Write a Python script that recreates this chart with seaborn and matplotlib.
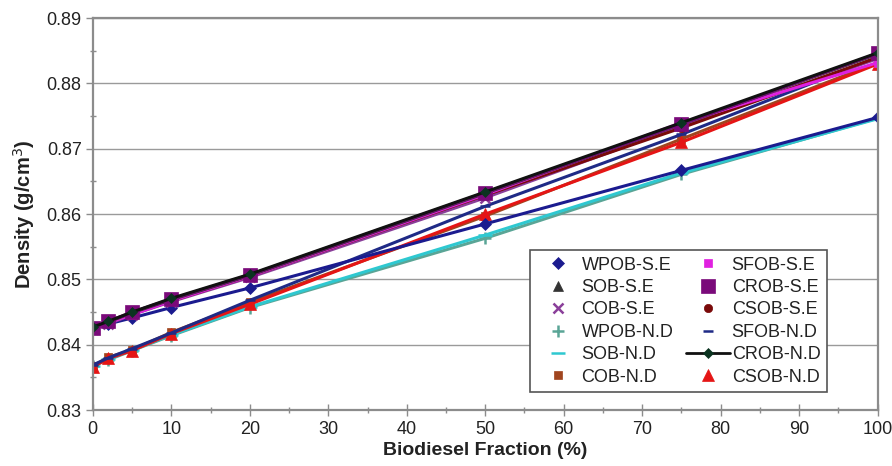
import matplotlib
matplotlib.use("Agg")
import matplotlib.pyplot as plt
from matplotlib.lines import Line2D
from matplotlib.ticker import MultipleLocator, FormatStrFormatter
import seaborn as sns
import pandas as pd

# Biodiesel blend fraction (%)
fraction = [0, 2, 5, 10, 20, 50, 75, 100]

# Density (g/cm3) per biodiesel and method
wpob_se = [0.8425, 0.8432, 0.8441, 0.8457, 0.8487, 0.8585, 0.8667, 0.8748]
sob_se = [0.8426, 0.8435, 0.8449, 0.8469, 0.8506, 0.8632, 0.8738, 0.8845]
cob_se = [0.8424, 0.8432, 0.8446, 0.8466, 0.8503, 0.8625, 0.8735, 0.8838]
wpob_nd = [0.8368, 0.8377, 0.8391, 0.8414, 0.8457, 0.8563, 0.8661, 0.8747]
sob_nd = [0.8368, 0.8378, 0.8392, 0.8415, 0.8458, 0.8568, 0.8663, 0.8746]
cob_nd = [0.8367, 0.8381, 0.8392, 0.8419, 0.8465, 0.8597, 0.8715, 0.8832]
sfob_se = [0.8424, 0.8434, 0.8446, 0.8467, 0.8505, 0.8630, 0.8740, 0.8832]
crob_se = [0.8426, 0.8436, 0.8450, 0.8470, 0.8507, 0.8633, 0.8738, 0.8846]
csob_se = [0.8425, 0.8437, 0.8448, 0.8467, 0.8505, 0.8629, 0.8732, 0.8840]
sfob_nd = [0.8369, 0.8380, 0.8394, 0.8418, 0.8468, 0.8612, 0.8722, 0.8840]
crob_nd = [0.8427, 0.8436, 0.8450, 0.8471, 0.8508, 0.8634, 0.8740, 0.8847]
csob_nd = [0.8366, 0.8379, 0.8391, 0.8417, 0.8462, 0.8600, 0.8710, 0.8830]

series_names = ["WPOB-S.E", "SOB-S.E", "COB-S.E", "WPOB-N.D", "SOB-N.D", "COB-N.D",
                "SFOB-S.E", "CROB-S.E", "CSOB-S.E", "SFOB-N.D", "CROB-N.D", "CSOB-N.D"]
series_values = [wpob_se, sob_se, cob_se, wpob_nd, sob_nd, cob_nd,
                 sfob_se, crob_se, csob_se, sfob_nd, crob_nd, csob_nd]

# (colour, marker, marker size, show line in legend)
styles = {
    "WPOB-S.E": ("#1b1b8f", "D", 6, False),
    "SOB-S.E": ("#333333", "^", 7, False),
    "COB-S.E": ("#8a3f9a", "x", 7, False),
    "WPOB-N.D": ("#5aa596", "+", 9, False),
    "SOB-N.D": ("#2ec8d0", "_", 10, False),
    "COB-N.D": ("#a0451f", "s", 6, False),
    "SFOB-S.E": ("#e020e0", "s", 6, False),
    "CROB-S.E": ("#7a0a7a", "s", 10, False),
    "CSOB-S.E": ("#7a0a0a", "o", 6, False),
    "SFOB-N.D": ("#1f2a86", "_", 7, False),
    "CROB-N.D": ("#111111", "D", 5, True),
    "CSOB-N.D": ("#e51515", "^", 8, False),
}

# Drawing order: the lower-group series first, the top lines last
draw_order = ["WPOB-N.D", "SOB-N.D", "COB-N.D", "CSOB-N.D", "SFOB-N.D",
              "WPOB-S.E", "COB-S.E", "CSOB-S.E", "SFOB-S.E", "SOB-S.E",
              "CROB-S.E", "CROB-N.D"]

frames = []
for name, vals in zip(series_names, series_values):
    frames.append(pd.DataFrame({"fraction": fraction, "density": vals, "series": name}))
df = pd.concat(frames, ignore_index=True)

sns.set_theme(style="white")
plt.rcParams["font.family"] = ["Liberation Sans", "DejaVu Sans"]

fig = plt.figure(figsize=(8.92, 4.66), dpi=100)
ax = fig.add_axes([0.104, 0.120, 0.880, 0.841])


def marker_colour(name, color):
    return "#0b3320" if name == "CROB-N.D" else color


def edge_width(marker):
    return 1.8 if marker in ("x", "+", "_") else 0.5


for name in draw_order:
    color, marker, ms, _ = styles[name]
    sub = df[df["series"] == name]
    mcol = marker_colour(name, color)
    sns.lineplot(data=sub, x="fraction", y="density", ax=ax, color=color,
                 linewidth=2.2, marker=marker, markersize=ms,
                 markeredgecolor=mcol, markerfacecolor=mcol,
                 markeredgewidth=edge_width(marker),
                 legend=False, errorbar=None)

ax.set_xlim(0, 100)
ax.set_ylim(0.83, 0.89)
ax.xaxis.set_major_locator(MultipleLocator(10))
ax.xaxis.set_minor_locator(MultipleLocator(5))
ax.yaxis.set_major_locator(MultipleLocator(0.01))
ax.yaxis.set_minor_locator(MultipleLocator(0.005))
ax.yaxis.set_major_formatter(FormatStrFormatter("%.2f"))
ax.xaxis.set_major_formatter(FormatStrFormatter("%d"))

ax.grid(axis="y", which="major", color="#9a9a9a", linewidth=1.0)
ax.set_axisbelow(True)
for side in ["left", "bottom", "right", "top"]:
    ax.spines[side].set_color("#8c8c8c")
    ax.spines[side].set_linewidth(1.6)

ax.tick_params(axis="both", which="major", direction="out", length=5, width=1,
               color="#8c8c8c", labelsize=13, labelcolor="#222222", pad=3)
ax.tick_params(axis="both", which="minor", direction="inout", length=4, width=1,
               color="#8c8c8c")
ax.tick_params(axis="x", which="major", direction="inout", length=8, pad=4)
ax.tick_params(axis="x", which="both", bottom=True)
ax.tick_params(axis="y", which="both", left=True)

ax.set_xlabel("Biodiesel Fraction (%)", fontsize=14, fontweight="bold",
              color="#222222", labelpad=3)
ax.set_ylabel("Density (g/cm$^3$)", fontsize=14.5, fontweight="bold",
              color="#222222", labelpad=7)

handles = []
for name in series_names:
    color, marker, ms, show_line = styles[name]
    mcol = marker_colour(name, color)
    handles.append(Line2D([], [], color="#111111" if show_line else color,
                          linestyle="-" if show_line else "none", linewidth=2.0,
                          marker=marker, markersize=ms, markerfacecolor=mcol,
                          markeredgecolor=mcol, markeredgewidth=edge_width(marker)))

leg = ax.legend(handles, series_names, ncol=2, loc="lower left",
                bbox_to_anchor=(0.557, 0.046, 0.378, 0.367), mode="expand",
                fontsize=13, frameon=True, fancybox=False, borderpad=0.35,
                labelspacing=0.3, handlelength=2.4, handletextpad=0.1,
                columnspacing=0.8, borderaxespad=0)
leg.get_frame().set_edgecolor("#555555")
leg.get_frame().set_linewidth(1.2)
leg.get_frame().set_facecolor("white")
leg.get_frame().set_alpha(1.0)
for t in leg.get_texts():
    t.set_color("#222222")

fig.savefig("out.png", dpi=100)
